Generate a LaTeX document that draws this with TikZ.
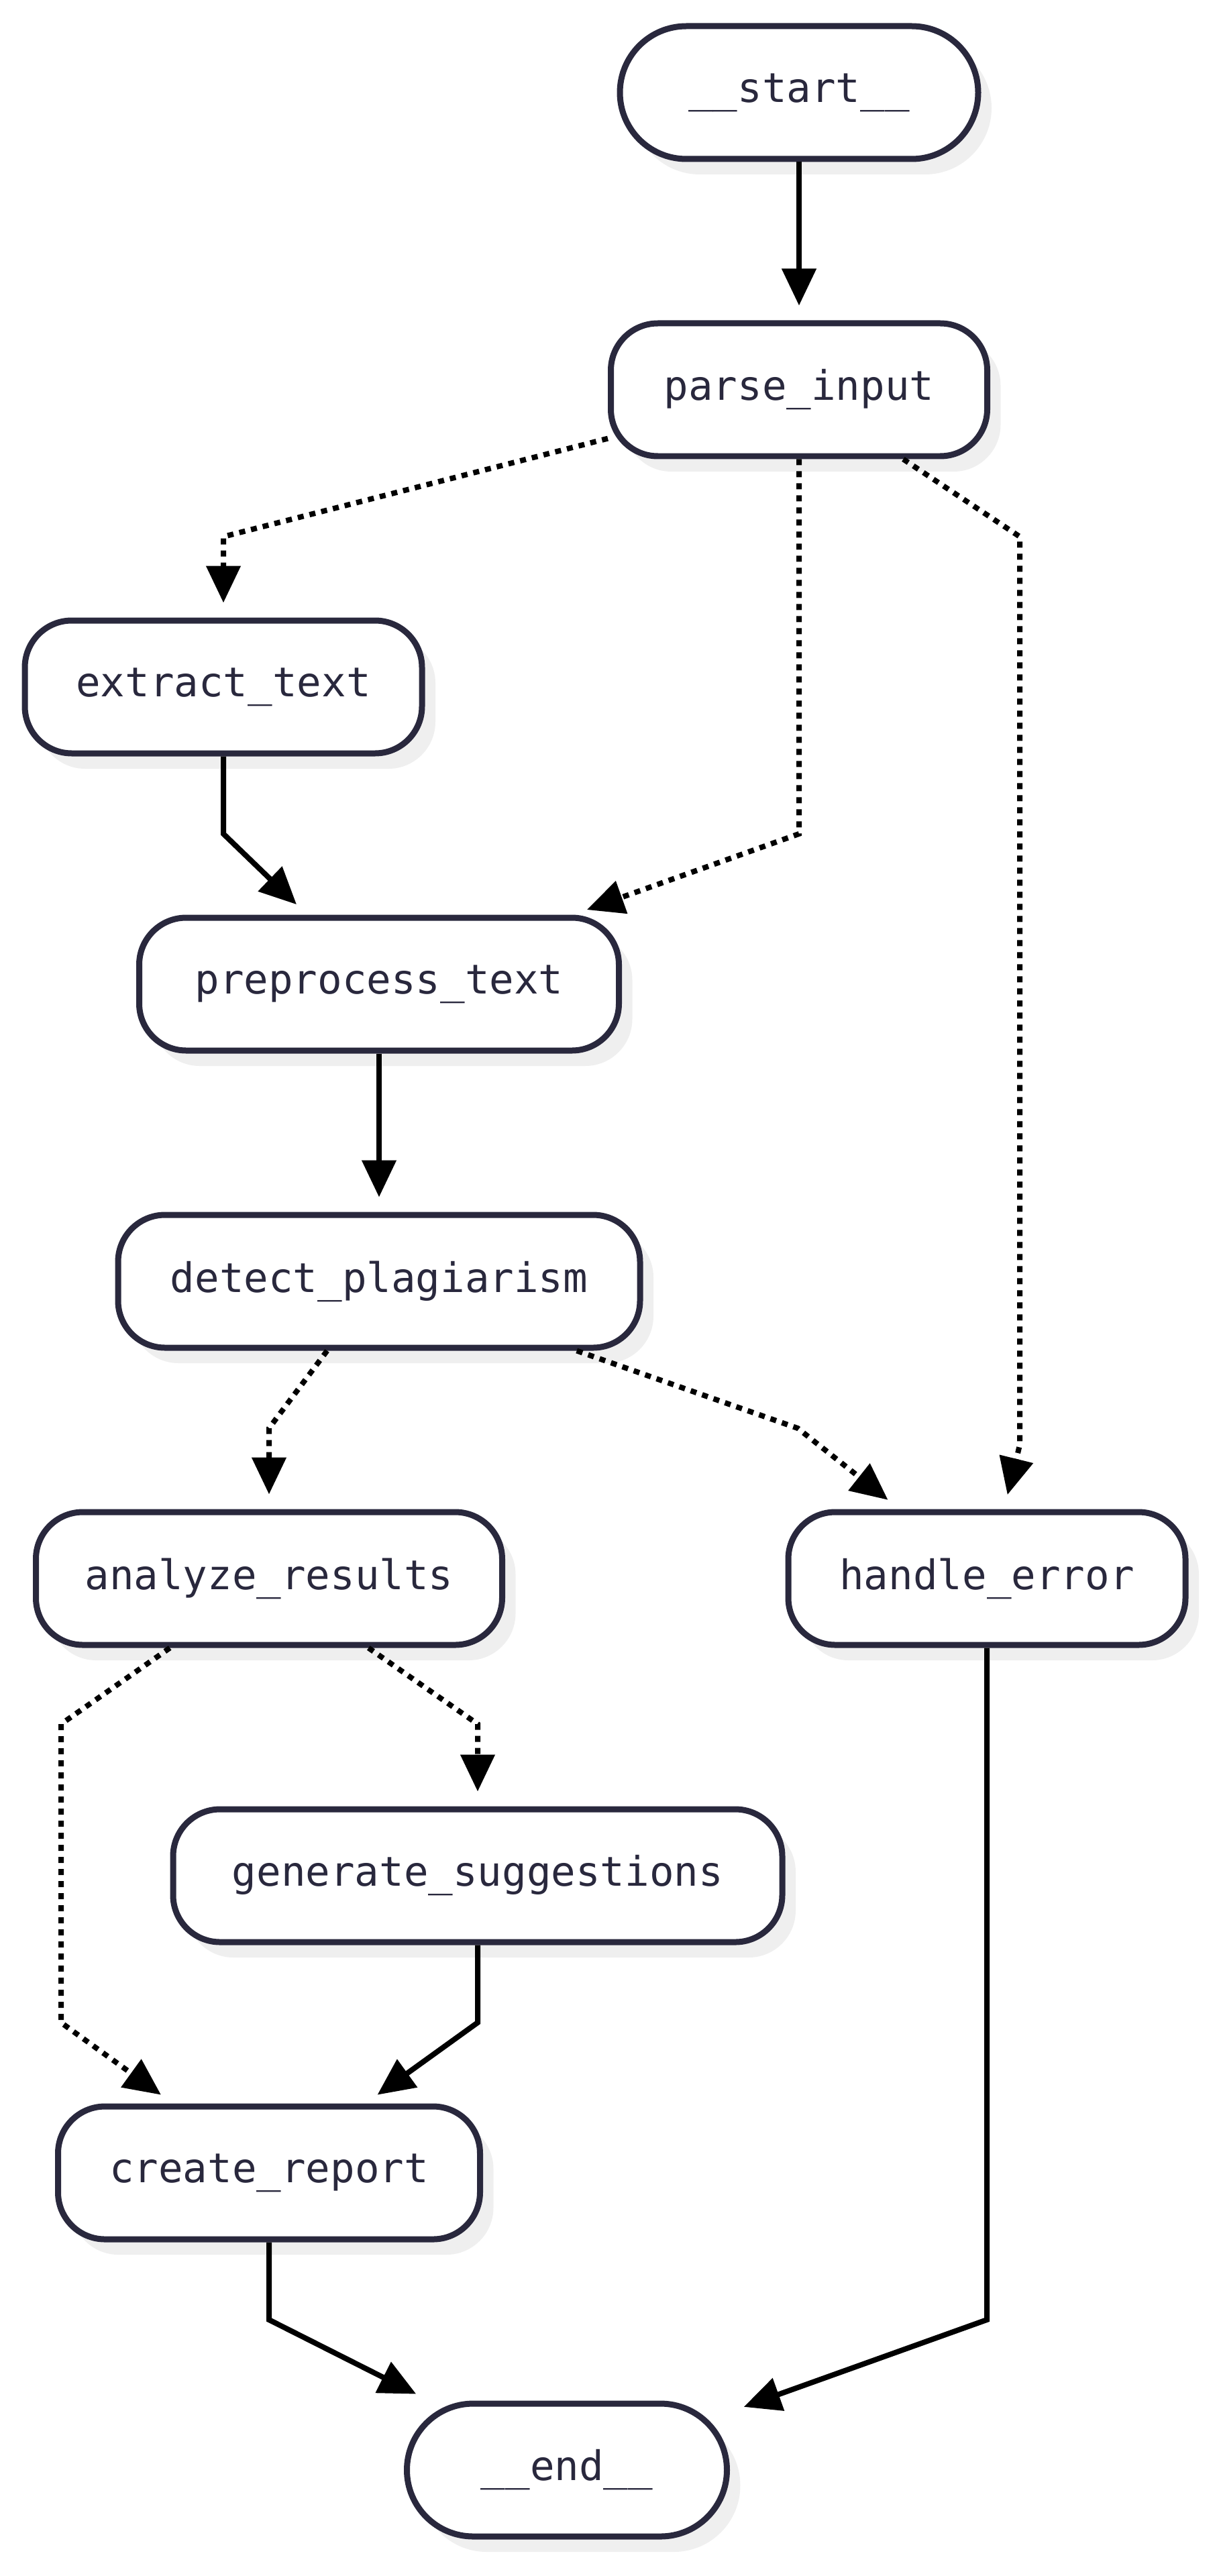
\documentclass[tikz,border=0pt]{standalone}
\usepackage{fontspec}
\setmonofont{DejaVu Sans Mono}
\usetikzlibrary{arrows.meta,shadows}
\definecolor{inkblue}{RGB}{41,40,61}
\definecolor{shade}{RGB}{239,239,239}
\begin{document}
\begin{tikzpicture}[
box/.style={draw=inkblue, line width=0.09cm, fill=white, rounded corners=0.7cm,
  minimum height=1.98cm, inner xsep=0.2cm, text=inkblue,
  font=\ttfamily\fontsize{17.3}{20}\selectfont,
  drop shadow={shadow xshift=0.2cm, shadow yshift=-0.23cm, fill=shade, opacity=1}},
term/.style={box, rounded corners=0.99cm},
arr/.style={line width=0.08cm, -{Triangle[length=0.55cm, width=0.5cm]}, shorten >=0.22cm},
dots/.style={dash pattern=on 0.09cm off 0.09cm}]
\useasboundingbox (0,0) rectangle (18.16,-38.40);
\node[term, minimum width=5.34cm] (start)   at (11.91,-1.38)  {\_\_start\_\_};
\node[box, minimum width=5.61cm]  (parse)   at (11.91,-5.81)  {parse\_input};
\node[box, minimum width=5.92cm]  (extract) at (3.33,-10.24)  {extract\_text};
\node[box, minimum width=7.15cm]  (prep)    at (5.65,-14.67)  {preprocess\_text};
\node[box, minimum width=7.78cm]  (detect)  at (5.65,-19.10)  {detect\_plagiarism};
\node[box, minimum width=6.95cm]  (analyze) at (4.01,-23.53)  {analyze\_results};
\node[box, minimum width=5.92cm]  (handle)  at (14.71,-23.53) {handle\_error};
\node[box, minimum width=9.08cm]  (suggest) at (7.12,-27.96)  {generate\_suggestions};
\node[box, minimum width=6.29cm]  (report)  at (4.01,-32.39)  {create\_report};
\node[term, minimum width=4.77cm] (end)     at (8.45,-36.82)  {\_\_end\_\_};
%
\draw[arr] (start) -- (parse);
\draw[arr, dots] (parse) -- (3.33,-8.00) -- (extract);
\draw[arr, dots] (parse) -- (11.91,-12.43) -- (prep);
\draw[arr, dots] (parse) -- (15.20,-8.00) -- (15.20,-21.54) -- (handle);
\draw[arr] (extract) -- (3.33,-12.43) -- (prep);
\draw[arr] (prep) -- (detect);
\draw[arr, dots] (detect) -- (4.01,-21.29) -- (analyze);
\draw[arr, dots] (detect) -- (11.89,-21.29) -- (handle);
\draw[arr, dots] (analyze) -- (7.12,-25.70) -- (suggest);
\draw[arr, dots] (analyze) -- (0.91,-25.70) -- (0.91,-30.15) -- (report);
\draw[arr] (suggest) -- (7.12,-30.15) -- (report);
\draw[arr] (report) -- (4.01,-34.58) -- (end);
\draw[arr] (handle) -- (14.71,-34.58) -- (end);
\end{tikzpicture}
\end{document}
